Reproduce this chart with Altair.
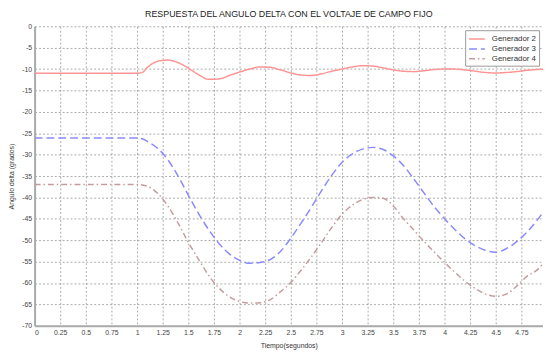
import altair as alt
import pandas as pd

# Time samples (s)
t = [0.0, 0.1, 0.2, 0.3, 0.4, 0.5, 0.6, 0.7, 0.8, 0.9, 1.0, 1.05,
     1.1, 1.2, 1.3, 1.4, 1.5, 1.6, 1.7, 1.8, 1.9, 2.0,
     2.1, 2.2, 2.3, 2.4, 2.5, 2.6, 2.7, 2.8, 2.9, 3.0,
     3.1, 3.2, 3.3, 3.4, 3.5, 3.6, 3.7, 3.8, 3.9, 4.0,
     4.1, 4.2, 4.3, 4.4, 4.5, 4.6, 4.7, 4.8, 4.9, 5.0]

gen2 = [-11.0, -11.0, -11.0, -11.0, -11.0, -11.0, -11.0, -11.0, -11.0, -11.0, -11.0, -10.8,
        -9.6, -8.2, -7.9, -8.5, -9.8, -11.3, -12.4, -12.3, -11.5, -10.7,
        -10.0, -9.5, -9.6, -10.2, -10.9, -11.4, -11.5, -11.1, -10.5, -10.0,
        -9.5, -9.2, -9.3, -9.7, -10.2, -10.5, -10.6, -10.4, -10.1, -10.0,
        -10.0, -10.2, -10.5, -10.8, -10.9, -10.8, -10.6, -10.3, -10.1, -10.0]

gen3 = [-26.1, -26.1, -26.1, -26.1, -26.1, -26.1, -26.1, -26.1, -26.1, -26.1, -26.1, -26.3,
        -26.9, -28.5, -31.2, -35.0, -39.5, -43.8, -47.6, -50.8, -53.2, -54.7,
        -55.4, -55.2, -54.5, -52.6, -49.5, -46.0, -42.3, -38.4, -34.8, -31.8,
        -29.8, -28.7, -28.3, -28.8, -30.3, -32.6, -35.7, -39.0, -42.2, -45.0,
        -47.5, -49.7, -51.3, -52.4, -52.8, -52.0, -50.4, -48.2, -45.4, -42.2]

gen4 = [-37.0, -37.0, -37.0, -37.0, -37.0, -37.0, -37.0, -37.0, -37.0, -37.0, -37.0, -37.1,
        -37.4, -39.0, -42.0, -46.0, -50.5, -54.5, -58.3, -61.2, -63.2, -64.3,
        -64.7, -64.6, -63.9, -62.0, -59.9, -57.0, -53.9, -50.5, -47.0, -43.9,
        -41.8, -40.5, -40.0, -40.2, -42.0, -45.0, -47.6, -50.3, -52.8, -55.2,
        -57.5, -59.6, -61.3, -62.6, -63.1, -62.6, -60.8, -58.5, -57.0, -54.3]

series_names = ["Generador 2", "Generador 3", "Generador 4"]
series_colors = ["#ff9494", "#8a8aff", "#c49c9c"]
series_dash = [[1, 0], [8, 4], [6, 3, 1.5, 3]]

x_ticks = [0, 0.25, 0.5, 0.75, 1, 1.25, 1.5, 1.75, 2, 2.25, 2.5, 2.75,
           3, 3.25, 3.5, 3.75, 4, 4.25, 4.5, 4.75]
y_ticks = [0, -5, -10, -15, -20, -25, -30, -35, -40, -45, -50, -55, -60, -65, -70]

rows = []
for name, vals in zip(series_names, [gen2, gen3, gen4]):
    for ti, v in zip(t, vals):
        rows.append({"t": ti, "v": v, "serie": name})
df = pd.DataFrame(rows)

FONT = "Liberation Sans"

chart = alt.Chart(df).mark_line(
    strokeWidth=1.5, interpolate="monotone", clip=True
).encode(
    x=alt.X("t:Q",
            scale=alt.Scale(domain=[0, 4.96], nice=False, zero=False),
            axis=alt.Axis(values=x_ticks, labelExpr="'' + datum.value",
                          title="Tiempo(segundos)", titlePadding=6)),
    y=alt.Y("v:Q",
            scale=alt.Scale(domain=[-70, 0], nice=False),
            axis=alt.Axis(values=y_ticks, labelExpr="'' + datum.value",
                          title="Angulo delta (grados)", titleX=-23, titleY=152,
                          titleAngle=-90, titleBaseline="middle")),
    color=alt.Color("serie:N",
                    scale=alt.Scale(domain=series_names, range=series_colors),
                    legend=alt.Legend(title=None, orient="none", legendX=437, legendY=4,
                                      symbolType="M-1.6,0L1.6,0", symbolSize=100,
                                      symbolStrokeWidth=1.5, symbolFillColor="transparent",
                                      labelFontSize=8, labelFont=FONT, labelColor="#333",
                                      fillColor="white", strokeColor="#999",
                                      padding=3, rowPadding=0, labelOffset=9,
                                      symbolOffset=3)),
    strokeDash=alt.StrokeDash("serie:N",
                              scale=alt.Scale(domain=series_names, range=series_dash),
                              legend=alt.Legend(title=None)),
).properties(
    width=516,
    height=304,
    title=alt.TitleParams("RESPUESTA DEL ANGULO DELTA CON EL VOLTAJE DE CAMPO FIJO",
                          fontSize=9, font=FONT, fontWeight="normal", color="#222",
                          anchor="middle", offset=3),
    autosize=alt.AutoSizeParams(type="none"),
    padding={"left": 27, "top": 16, "right": 0, "bottom": 22},
).configure_axis(
    labelFont=FONT, labelFontSize=7, labelColor="#444",
    titleFont=FONT, titleFontSize=7, titleFontWeight="normal", titleColor="#333",
    grid=True, gridColor="#888", gridDash=[2, 2], gridWidth=0.7,
    domainColor="#aaa", domainWidth=2,
    tickSize=0, labelPadding=3,
).configure_view(stroke=None)

chart.save("out.html", embed_options={"renderer": "svg", "actions": False})
